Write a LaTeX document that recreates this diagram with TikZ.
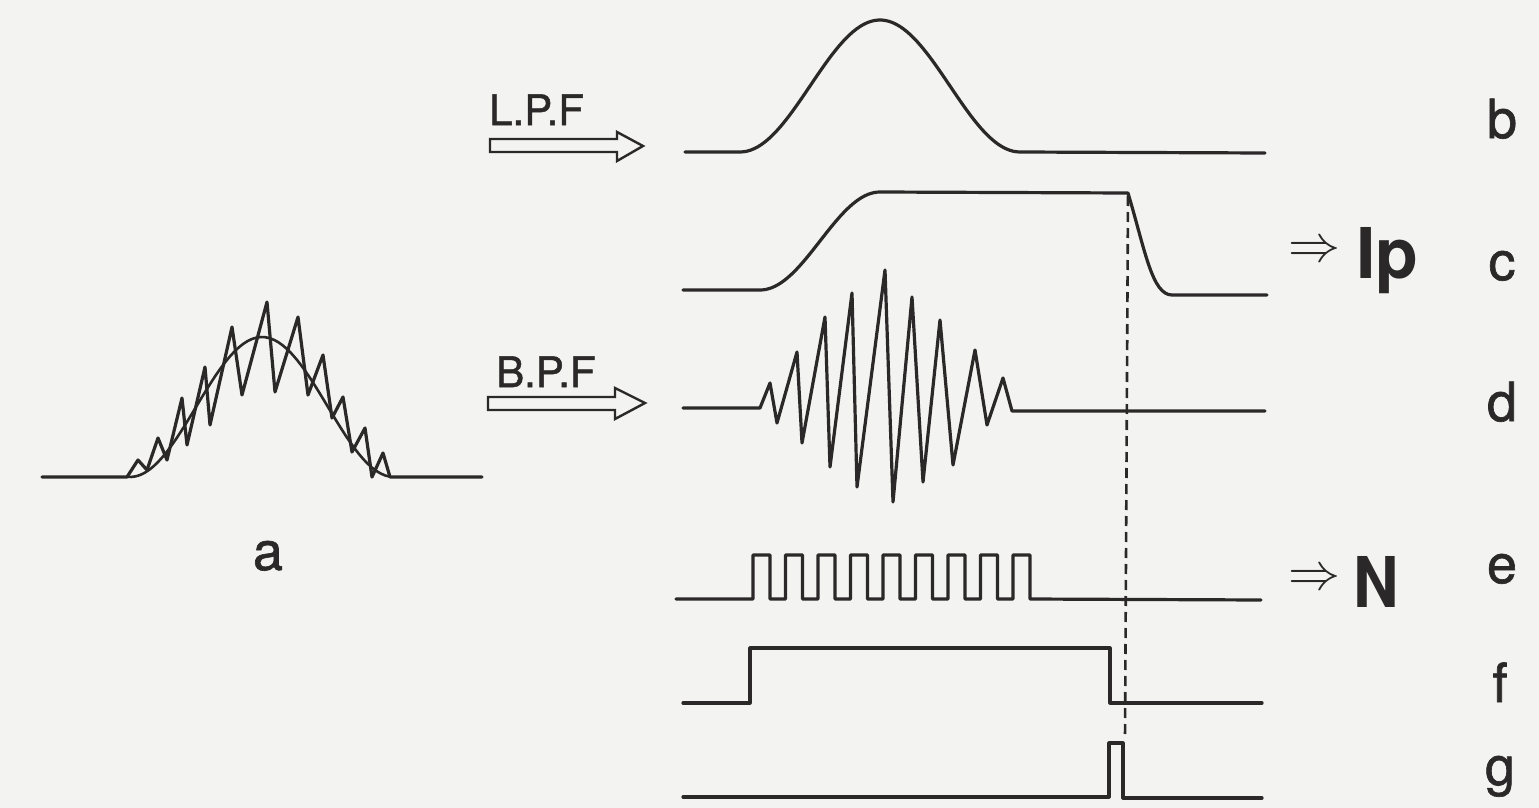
\documentclass[tikz,border=0pt]{standalone}
\usepackage{fontspec}
\setmainfont{TeX Gyre Heros}
\newfontfamily\heavy{TeX Gyre Heros}[FakeBold=1.2]
\definecolor{ink}{RGB}{42,40,40}
\definecolor{bgc}{RGB}{243,243,241}
\begin{document}
\begin{tikzpicture}[x=1pt,y=-1pt,
  sig/.style={line width=3.2pt, draw=ink, line join=round, line cap=round},
  smooth curve/.style={line width=2.6pt, draw=ink},
  hollowarrow/.style={line width=2.4pt, draw=ink, line join=miter},
  dashline/.style={line width=2.6pt, draw=ink, dash pattern=on 10pt off 6pt},
  filt/.style={text=ink, font=\heavy\fontsize{42}{42}\selectfont, inner sep=0pt, anchor=base west},
  letter/.style={text=ink, font=\heavy\fontsize{54}{54}\selectfont, inner sep=0pt, anchor=base},
  result/.style={text=ink, font=\fontsize{70}{70}\selectfont\bfseries, inner sep=0pt, anchor=base west},
  implies/.style={text=ink, inner sep=0pt, scale=5.2}]
\fill[bgc] (0,0) rectangle (1539,808);
\useasboundingbox (0,0) rectangle (1539,808);

% signal a: noisy pulse with smooth envelope
\draw[sig] (42,477) -- (127,477) -- (138,460) -- (147,470) -- (158,438) -- (167,460)
  -- (182,398) -- (187,445) -- (205,367) -- (210,425) -- (232,327) -- (242,395)
  -- (267,302) -- (275,392) -- (298,317) -- (308,395) -- (323,355) -- (332,418)
  -- (343,397) -- (352,452) -- (365,428) -- (372,477) -- (383,453) -- (390,477) -- (482,477);
\draw[smooth curve] plot[domain=127:390,samples=60] (\x,{477-70*(1+cos((\x-262)*1.3636))});
\node[letter] (la) at (268,570) {a};

% filters
\node[filt] (lpf) at (489,125) {L.P.F};
\draw[hollowarrow] (490,139) -- (617,139) -- (617,132) -- (643,146) -- (617,161) -- (617,152) -- (490,152) -- cycle;
\node[filt] (bpf) at (496,387) {B.P.F};
\draw[hollowarrow] (488,397) -- (615,397) -- (615,388) -- (645,403) -- (615,419) -- (615,410) -- (488,410) -- cycle;

% b
\draw[sig] (685,152) -- (740,152) -- plot[domain=740:1020,samples=80] (\x,{152-66*(1+cos((\x-880)*1.285714))}) -- (1265,153);
% c
\draw[sig] (683,290) -- (760,290) -- plot[domain=760:880,samples=40] (\x,{290-49*(1-cos((\x-760)*1.5))})
  -- (1128,193) .. controls (1145,250) and (1152,295) .. (1172,295) -- (1267,295);
% d
\draw[sig] (683,408) -- (760,408) -- (770,383) -- (777,423) -- (797,352) -- (802,443) -- (825,317)
  -- (830,467) -- (852,293) -- (857,487) -- (885,270) -- (893,502) -- (912,297) -- (923,482)
  -- (940,320) -- (953,465) -- (975,350) -- (987,425) -- (1003,378) -- (1012,411) -- (1265,411);
% e
\draw[sig] (676,599) -- (753,599) -- (753,555) -- (770,555) -- (770,599)
  -- (785.5,599) -- (785.5,555) -- (802.5,555) -- (802.5,599)
  -- (818,599) -- (818,555) -- (835,555) -- (835,599)
  -- (850.5,599) -- (850.5,555) -- (867.5,555) -- (867.5,599)
  -- (883,599) -- (883,555) -- (900,555) -- (900,599)
  -- (915.5,599) -- (915.5,555) -- (932.5,555) -- (932.5,599)
  -- (948,599) -- (948,555) -- (965,555) -- (965,599)
  -- (980.5,599) -- (980.5,555) -- (997.5,555) -- (997.5,599)
  -- (1013,599) -- (1013,555) -- (1030,555) -- (1030,599) -- (1261,600);
% f
\draw[sig] (683,703) -- (750,703) -- (750,648) -- (1110,648) -- (1110,703) -- (1262,703);
% g
\draw[sig] (683,797) -- (1109,797) -- (1109,743) -- (1123,743) -- (1123,798) -- (1262,798);

% dashed marker
\coordinate (ctop) at (1128,196);
\coordinate (gtop) at (1125,738);
\draw[dashline] (ctop) -- (gtop);

% outputs
\node[implies] (ar1) at (1314,252) {$\Rightarrow$};
\node[result] (ip) at (1356,278) {Ip};
\node[implies] (ar2) at (1314,580) {$\Rightarrow$};
\node[result, xscale=0.9] (nn) at (1353,607) {N};

% row letters
\node[letter] (lb) at (1502,138) {b};
\node[letter] (lc) at (1502,280) {c};
\node[letter] (ld) at (1502,421) {d};
\node[letter] (le) at (1502,583) {e};
\node[letter] (lf) at (1500,702) {f};
\node[letter] (lg) at (1500,785) {g};
\end{tikzpicture}
\end{document}
